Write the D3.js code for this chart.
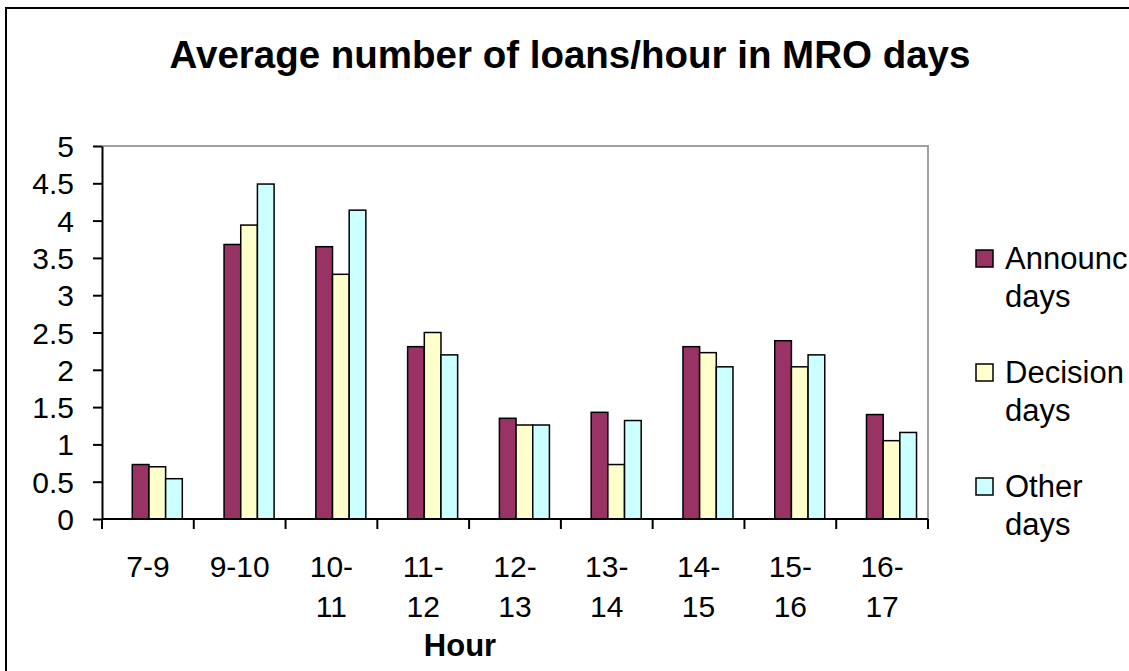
<!DOCTYPE html>
<html>
<head>
<meta charset="utf-8">
<script src="https://cdn.jsdelivr.net/npm/d3@7"></script>
<style>
  body { margin: 0; background: #fff; overflow: hidden; }
  svg { display: block; }
  text { font-family: "Liberation Sans", Arial, sans-serif; }
</style>
</head>
<body>
<div id="chart"></div>
<script>
// chart values
const hours = ["7-9", "9-10", "10-11", "11-12", "12-13", "13-14", "14-15", "15-16", "16-17"];
const seriesNames = ["Announc days", "Decision days", "Other days"];
const announcDays = [0.73, 3.68, 3.65, 2.31, 1.35, 1.43, 2.31, 2.39, 1.40];
const decisionDays = [0.70, 3.94, 3.28, 2.50, 1.26, 0.73, 2.23, 2.04, 1.05];
const otherDays = [0.54, 4.49, 4.14, 2.20, 1.26, 1.32, 2.04, 2.20, 1.16];
const yTicks = [0, 0.5, 1, 1.5, 2, 2.5, 3, 3.5, 4, 4.5, 5];
const colors = ["#993366", "#FFFFCC", "#CCFFFF"];

const allSeries = [announcDays, decisionDays, otherDays];

const svgWidth = 1129;
const svgHeight = 671;
const margin = { top: 146, right: 201, bottom: 152, left: 102 };
const width = svgWidth - margin.left - margin.right;
const height = svgHeight - margin.top - margin.bottom;

const svg = d3.select("#chart")
    .append("svg")
    .attr("width", svgWidth)
    .attr("height", svgHeight);

svg.append("rect")
    .attr("width", svgWidth)
    .attr("height", svgHeight)
    .attr("fill", "#fff");

// outer chart frame (only top and left edges are visible)
svg.append("path")
    .attr("d", `M6,${svgHeight}V8H${svgWidth}`)
    .attr("fill", "none")
    .attr("stroke", "#000")
    .attr("stroke-width", 2);

svg.append("text")
    .attr("x", 570)
    .attr("y", 68)
    .attr("text-anchor", "middle")
    .style("font-size", "38.5px")
    .style("font-weight", "bold")
    .text("Average number of loans/hour in MRO days");

const g = svg.append("g")
    .attr("transform", `translate(${margin.left},${margin.top})`);

const x0 = d3.scaleBand().domain(hours).range([0, width]).padding(0);
// bars sit a little right of the category centre, as in the original
const x1 = d3.scaleBand().domain(d3.range(seriesNames.length))
    .range([x0.bandwidth() * 0.33, x0.bandwidth() * 0.875]).padding(0);
const y = d3.scaleLinear().domain([0, 5]).range([height, 0]);

// plot area border (top and right)
g.append("path")
    .attr("d", `M0,0H${width}V${height}`)
    .attr("fill", "none")
    .attr("stroke", "#a0a0a0")
    .attr("stroke-width", 2);

// bars
hours.forEach((h, i) => {
    allSeries.forEach((vals, s) => {
        g.append("rect")
            .attr("x", x0(h) + x1(s))
            .attr("y", y(vals[i]))
            .attr("width", x1.bandwidth())
            .attr("height", height - y(vals[i]))
            .attr("fill", colors[s])
            .attr("stroke", "#000")
            .attr("stroke-width", 1.5);
    });
});

// y axis
const yAxis = g.append("g")
    .call(d3.axisLeft(y).tickValues(yTicks).tickSize(9).tickSizeOuter(0).tickPadding(19)
        .tickFormat(d => String(d)));
yAxis.select(".domain").attr("stroke-width", 2);
yAxis.selectAll(".tick line").attr("stroke-width", 2);
yAxis.selectAll("text")
    .style("font-size", "30px")
    .attr("fill", "#000")
    .attr("dy", "0.35em");

// x axis: ticks at category boundaries
const boundaries = d3.range(hours.length + 1).map(i => i * x0.step());
const xAxisG = g.append("g").attr("transform", `translate(0,${height})`);
xAxisG.append("line")
    .attr("x1", 0).attr("x2", width)
    .attr("stroke", "#000").attr("stroke-width", 2);
xAxisG.selectAll(".btick")
    .data(boundaries)
    .join("line")
    .attr("x1", d => d).attr("x2", d => d)
    .attr("y1", 0).attr("y2", 10)
    .attr("stroke", "#000").attr("stroke-width", 2);

// x labels, wrapped after the hyphen like the original
hours.forEach(h => {
    const lines = h.length > 4 ? [h.slice(0, h.indexOf("-") + 1), h.slice(h.indexOf("-") + 1)] : [h];
    const t = xAxisG.append("text")
        .attr("text-anchor", "middle")
        .style("font-size", "30px");
    lines.forEach((ln, k) => {
        t.append("tspan")
            .attr("x", x0(h) + x0.bandwidth() / 2)
            .attr("y", 58 + k * 40)
            .text(ln);
    });
});

svg.append("text")
    .attr("x", 460)
    .attr("y", 656)
    .attr("text-anchor", "middle")
    .style("font-size", "31px")
    .style("font-weight", "bold")
    .text("Hour");

// legend
const legend = svg.append("g").attr("transform", "translate(976,0)");
seriesNames.forEach((name, i) => {
    const base = 269 + i * 114;
    legend.append("rect")
        .attr("x", 0)
        .attr("y", base - 19)
        .attr("width", 17)
        .attr("height", 17)
        .attr("fill", colors[i])
        .attr("stroke", "#000")
        .attr("stroke-width", 1.5);
    const parts = name.split(" ");
    const t = legend.append("text").style("font-size", "31px");
    parts.forEach((p, k) => {
        t.append("tspan")
            .attr("x", 29)
            .attr("y", base + k * 38)
            .text(p);
    });
});
</script>
</body>
</html>
